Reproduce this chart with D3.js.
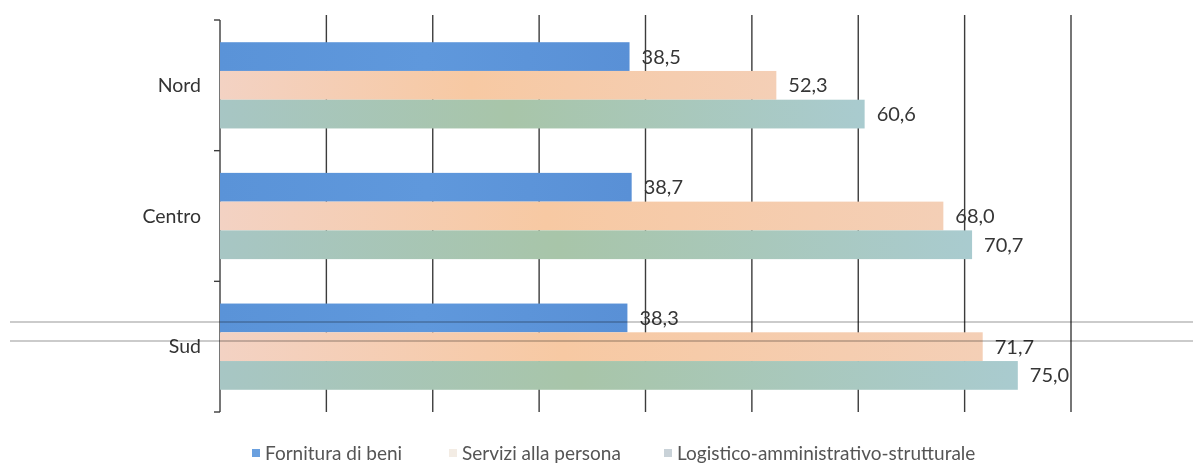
<!DOCTYPE html>
<html>
<head>
<meta charset="utf-8">
<script src="https://cdn.jsdelivr.net/npm/d3@7"></script>
<style>
  html, body { margin: 0; padding: 0; background: #ffffff; }
  svg { display: block; font-family: Lato, "Open Sans", sans-serif; }
</style>
</head>
<body>
<svg id="chart" width="1193" height="464"></svg>
<script>
// Regions shown on the vertical axis
const categories = ["Nord", "Centro", "Sud"];

// Series names (legend order = bar order inside each group)
const seriesNames = ["Fornitura di beni", "Servizi alla persona", "Logistico-amministrativo-strutturale"];

// Percent values per region, one array per series
const fornitura = [38.5, 38.7, 38.3];
const servizi   = [52.3, 68.0, 71.7];
const logistico = [60.6, 70.7, 75.0];

// Value axis gridline ticks
const xTicks = [0, 10, 20, 30, 40, 50, 60, 70, 80];

const seriesValues = [fornitura, servizi, logistico];
const legendColors = ["#6aa0df", "#f3ece4", "#c9d2d8"];

const svg = d3.select("#chart");

const x = d3.scaleLinear().domain([0, 80]).range([220, 1071]);
const y = d3.scaleBand().domain(categories).range([20, 412])
  .paddingInner(0.34).paddingOuter(0.17);
const ySub = d3.scaleBand().domain(d3.range(seriesNames.length)).range([0, y.bandwidth()]);

const fmt = v => d3.format(".1f")(v).replace(".", ",");

// Soft horizontal gradients give the bars their shaded, print-like fill
const defs = svg.append("defs");
const gradStops = [
  [["#5a93d8", 0], ["#5f98dc", 0.5], ["#5990d6", 1]],
  [["#f3d2c3", 0], ["#f7c9a3", 0.45], ["#f4cfb6", 1]],
  [["#a7c6c4", 0], ["#a8c5a9", 0.45], ["#a9cbcf", 1]]
];
gradStops.forEach((stops, i) => {
  const g = defs.append("linearGradient").attr("id", "grad" + i)
    .attr("x1", "0%").attr("x2", "100%").attr("y1", "0%").attr("y2", "0%");
  stops.forEach(([c, o]) => g.append("stop").attr("offset", o).attr("stop-color", c));
});

// Vertical gridlines
svg.append("g").selectAll("line")
  .data(xTicks.filter(t => t > 0))
  .join("line")
  .attr("x1", d => x(d)).attr("x2", d => x(d))
  .attr("y1", 15).attr("y2", 412)
  .attr("stroke", "#3c3c3c").attr("stroke-width", 1.4);

// Category axis: line at zero with ticks at band boundaries
const axisG = svg.append("g");
axisG.append("line")
  .attr("x1", x(0)).attr("x2", x(0))
  .attr("y1", y.range()[0]).attr("y2", y.range()[1])
  .attr("stroke", "#3c3c3c").attr("stroke-width", 1.4);
const boundaries = categories.map(c => y(c) - y.step() * y.paddingOuter())
  .concat([y.range()[1]]);
axisG.selectAll("line.tick")
  .data(boundaries)
  .join("line").attr("class", "tick")
  .attr("x1", x(0) - 6).attr("x2", x(0))
  .attr("y1", d => d).attr("y2", d => d)
  .attr("stroke", "#3c3c3c").attr("stroke-width", 1.4);

// Category labels
svg.append("g").selectAll("text")
  .data(categories)
  .join("text")
  .attr("x", 201)
  .attr("y", d => y(d) + y.bandwidth() / 2)
  .attr("dy", "0.35em")
  .attr("text-anchor", "end")
  .attr("font-size", 19.5)
  .attr("fill", "#333")
  .text(d => d);

// Bars and value labels
const rows = [];
categories.forEach((c, ci) => {
  seriesValues.forEach((vals, si) => rows.push({ cat: c, s: si, v: vals[ci] }));
});

svg.append("g").selectAll("rect")
  .data(rows)
  .join("rect")
  .attr("x", x(0))
  .attr("y", d => y(d.cat) + ySub(d.s))
  .attr("width", d => x(d.v) - x(0))
  .attr("height", ySub.bandwidth())
  .attr("fill", d => `url(#grad${d.s})`);

svg.append("g").selectAll("text")
  .data(rows)
  .join("text")
  .attr("x", d => x(d.v) + 12)
  .attr("y", d => y(d.cat) + ySub(d.s) + ySub.bandwidth() / 2)
  .attr("dy", "0.35em")
  .attr("font-size", 20)
  .attr("fill", "#363636")
  .text(d => fmt(d.v));

// Two faint horizontal rules crossing the lower group
const rules = [322, 341];
svg.append("g").selectAll("line")
  .data(rules)
  .join("line")
  .attr("x1", 10).attr("x2", 1193)
  .attr("y1", d => d).attr("y2", d => d)
  .attr("stroke", "#b5b5b5").attr("stroke-width", 2)
  .attr("stroke-opacity", 0.7)
  .style("mix-blend-mode", "multiply");

// Legend
const legendX = [252, 449, 664];
const legend = svg.append("g").selectAll("g")
  .data(seriesNames)
  .join("g")
  .attr("transform", (d, i) => `translate(${legendX[i]},453)`);
legend.append("rect")
  .attr("x", 0).attr("y", -4).attr("width", 8).attr("height", 8)
  .attr("fill", (d, i) => legendColors[i]);
legend.append("text")
  .attr("x", 13).attr("dy", "0.35em")
  .attr("font-size", 19)
  .attr("fill", "#555")
  .text(d => d);
</script>
</body>
</html>
